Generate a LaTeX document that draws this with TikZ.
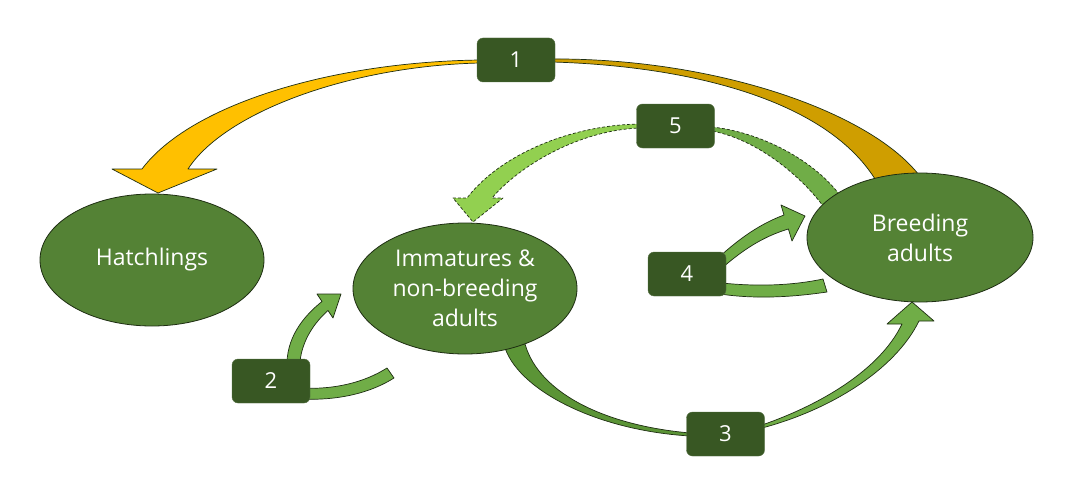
\documentclass[tikz,border=0pt]{standalone}
\usepackage{fontspec}
\setmainfont{Open Sans}
\usetikzlibrary{shapes.geometric}
\definecolor{ellgreen}{HTML}{548235}
\definecolor{boxgreen}{HTML}{385723}
\definecolor{midgreen}{HTML}{70AD47}
\definecolor{darkarrow}{HTML}{5B9436}
\definecolor{lightgreen}{HTML}{92D050}
\definecolor{gold}{HTML}{FFC000}
\definecolor{darkgold}{HTML}{CF9E00}
\definecolor{edgecol}{HTML}{1E2E12}
\begin{document}
\begin{tikzpicture}[x=1pt,y=-1pt,
  stage/.style={ellipse, draw=edgecol, line width=0.8pt, fill=ellgreen, text=white,
    font=\fontsize{23}{30}\selectfont, align=center, inner sep=0pt},
  numbox/.style={rectangle, rounded corners=6pt, fill=boxgreen, draw=boxgreen!85!white,
    text=white, minimum width=78pt, minimum height=44pt,
    font=\fontsize{22}{26}\selectfont, inner sep=0pt},
  blockarrow/.style={draw=edgecol, line width=0.7pt, line join=round},
  dashedarrow/.style={draw=edgecol, line width=0.7pt, line join=round, dash pattern=on 3pt off 2pt}]
\useasboundingbox (0,0) rectangle (1090,487);
\fill[white] (0,0) rectangle (1090,487);

% arrow 1 (gold), left part
\path[blockarrow, fill=gold]
  (480,60) .. controls (330,62) and (190,105) .. (142,169)
  -- (112,169) -- (158,193) -- (217,169) -- (188,169)
  .. controls (225,112) and (350,66) .. (480,63) -- cycle;
% arrow 1 right part
\path[blockarrow, fill=darkgold]
  (552,59) .. controls (720,58) and (880,115) .. (924,182)
  -- (878,184) .. controls (830,100) and (690,66) .. (552,62) -- cycle;

% arrow 5 (dashed), left part
\path[dashedarrow, fill=lightgreen]
  (640,124) .. controls (570,125) and (500,155) .. (467,198)
  -- (453,198) -- (473,222) -- (503,198) -- (492,198)
  .. controls (520,165) and (580,130) .. (640,128) -- cycle;
% arrow 5 right part
\path[dashedarrow, fill=midgreen]
  (712,127) .. controls (760,132) and (815,160) .. (842,198)
  -- (826,210) .. controls (805,180) and (760,140) .. (712,131) -- cycle;

% arrow 3, left part
\path[blockarrow, fill=darkarrow]
  (503,340) .. controls (510,385) and (590,430) .. (690,436)
  -- (690,433) .. controls (600,425) and (535,390) .. (524,340) -- cycle;
% arrow 3, right part
\path[blockarrow, fill=midgreen]
  (762,428) .. controls (830,410) and (895,370) .. (919,321)
  -- (934,321) -- (912,302) -- (887,324) -- (902,324)
  .. controls (880,370) and (820,405) .. (762,425) -- cycle;

% arrow 2
\path[blockarrow, fill=midgreen]
  (300,399) .. controls (340,401) and (372,392) .. (394,378)
  -- (387,368) .. controls (365,382) and (335,390) .. (300,388)
  -- (298,370) -- (300,362)
  .. controls (302,340) and (315,322) .. (328,310.5)
  -- (333,318) -- (341,294) -- (317,294) -- (322,301.5)
  .. controls (305,315) and (288,335) .. (287,362)
  -- (285,395) -- cycle;

% arrow 4
\path[blockarrow, fill=midgreen]
  (720,294) .. controls (760,300) and (800,296) .. (827,292)
  -- (823,279) .. controls (795,285) and (760,287) .. (722,283)
  -- (722,268) .. controls (745,248) and (765,236) .. (788.4,229)
  -- (792,241) -- (805,216) -- (781,205) -- (784,215)
  .. controls (760,224) and (740,238) .. (718,258)
  -- (710,290) -- cycle;

% stages
\node[stage, minimum width=224pt, minimum height=132pt] (hatch) at (152,260) {Hatchlings};
\node[stage, minimum width=224pt, minimum height=131pt] (imm) at (465,288.5)
  {Immatures \&\\non-breeding\\adults};
\node[stage, minimum width=226pt, minimum height=129pt] (breed) at (920,237.5)
  {Breeding\\adults};

% number boxes
\node[numbox] (n1) at (516,60) {1};
\node[numbox] (n5) at (675.5,126) {5};
\node[numbox] (n4) at (687,274) {4};
\node[numbox] (n2) at (271,381) {2};
\node[numbox] (n3) at (725.5,434) {3};
\end{tikzpicture}
\end{document}
